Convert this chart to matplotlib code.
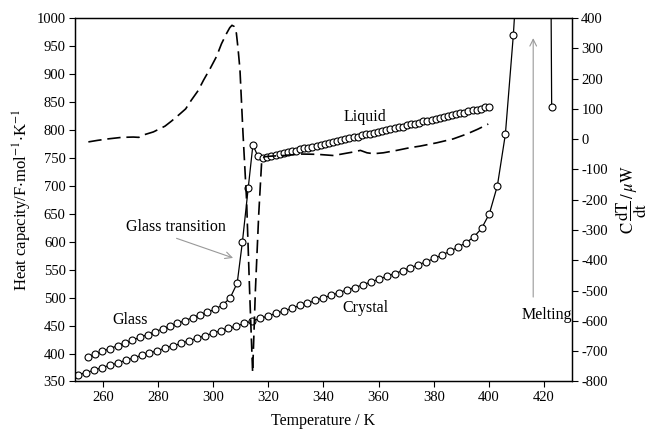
import matplotlib
matplotlib.use("Agg")
import matplotlib.pyplot as plt

plt.rcParams['font.family'] = ['Liberation Serif', 'DejaVu Serif']
plt.rcParams['mathtext.fontset'] = 'stix'
plt.rcParams['axes.unicode_minus'] = False

# ---- data ----
crystal_T = [251.0, 253.9, 256.7, 259.6, 262.5, 265.3, 268.2, 271.1, 274.0, 276.8,
             279.7, 282.6, 285.4, 288.3, 291.2, 294.0, 296.9, 299.8, 302.7, 305.5,
             308.4, 311.3, 314.1, 317.0, 319.9, 322.7, 325.6, 328.5, 331.4, 334.2,
             337.1, 340.0, 342.8, 345.7, 348.6, 351.4, 354.3, 357.2, 360.1, 362.9,
             365.8, 368.7, 371.5, 374.4, 377.3, 380.1, 383.0, 385.9, 388.8, 391.6,
             394.5, 397.4, 400.2, 403.1, 406.0, 408.9, 409.4]
crystal_cp = [362, 366, 370, 375, 379, 383, 388, 392, 397, 401,
              405, 410, 414, 418, 423, 427, 432, 436, 441, 445,
              449, 454, 458, 463, 467, 472, 476, 481, 486, 490,
              495, 500, 504, 509, 514, 518, 523, 528, 533, 538,
              543, 548, 553, 559, 564, 570, 576, 583, 590, 598,
              608, 624, 650, 700, 792, 970, 1010]

melt_T = [422.6, 422.8]
melt_cp = [1010, 841]

glass_T = [254.4, 257.1, 259.8, 262.6, 265.3, 268.0, 270.7, 273.4, 276.2, 278.9,
           281.6, 284.3, 287.0, 289.8, 292.5, 295.2, 297.9, 300.6, 303.4, 306.1,
           308.7, 310.6, 312.7, 314.4, 316.2, 318.0]
glass_cp = [394, 399, 404, 409, 414, 419, 424, 429, 434, 439,
            444, 449, 454, 459, 464, 469, 474, 479, 487, 499,
            526, 600, 696, 773, 753, 750]

liquid_T = [319.6, 321.1, 322.6, 324.1, 325.6, 327.1, 328.5, 330.0, 331.5, 333.0,
            334.5, 336.0, 337.5, 339.0, 340.5, 341.9, 343.4, 344.9, 346.4, 347.9,
            349.4, 350.9, 352.4, 353.9, 355.4, 356.9, 358.3, 359.8, 361.3, 362.8,
            364.3, 365.8, 367.3, 368.8, 370.3, 371.8, 373.2, 374.7, 376.2, 377.7,
            379.2, 380.7, 382.2, 383.7, 385.2, 386.7, 388.1, 389.6, 391.1, 392.6,
            394.1, 395.6, 397.1, 398.6, 400.1]
liquid_cp = [752, 754, 755, 757, 759, 760, 762, 763, 765, 767,
             768, 770, 772, 773, 775, 777, 778, 780, 782, 783,
             785, 787, 788, 790, 792, 793, 795, 796, 798, 800,
             801, 803, 805, 806, 808, 810, 811, 813, 815, 816,
             818, 820, 821, 823, 825, 826, 828, 830, 831, 833,
             835, 836, 838, 840, 841]

heat_T = [254.7, 258.0, 261.9, 266.8, 271.0, 273.0, 274.0, 278.3, 282.5, 284.9,
          287.5, 290.0, 292.0, 294.5, 296.5, 299.0, 301.2, 303.0, 304.9, 306.0,
          306.8, 307.6, 308.4, 309.0, 309.7, 310.8, 312.1, 313.2, 314.3, 315.3,
          316.5, 317.6, 318.5, 321.0, 325.5, 331.6, 337.7, 343.7, 347.3, 351.0,
          353.4, 355.8, 358.2, 361.7, 366.6, 371.4, 375.0, 381.1, 387.1, 392.0,
          396.0, 399.8]
heat_flow = [-9, -4, 1, 6, 7, 6, 12, 24, 43, 60,
             80, 100, 128, 160, 195, 235, 273, 315, 350, 368,
             376, 372, 350, 300, 230, 20, -200, -500, -770, -500,
             -250, -70, -58, -56, -54, -49, -50, -54, -48, -42,
             -37, -45, -48, -45, -37, -28, -23, -12, 1, 17,
             33, 50]

x_ticks = [260, 280, 300, 320, 340, 360, 380, 400, 420]
left_ticks = [350, 400, 450, 500, 550, 600, 650, 700, 750, 800, 850, 900, 950, 1000]
right_ticks = [-800, -700, -600, -500, -400, -300, -200, -100, 0, 100, 200, 300, 400]

# ---- figure ----
fig = plt.figure(figsize=(6.49, 4.32), dpi=100)
ax = fig.add_axes([0.1162, 0.1169, 0.7644, 0.8414])
ax2 = ax.twinx()

mk = dict(marker='o', markersize=5, markerfacecolor='white', markeredgecolor='black',
          markeredgewidth=0.8, color='black', linewidth=0.9)

ax.plot(crystal_T, crystal_cp, markevery=list(range(len(crystal_T) - 1)), **mk)
ax.plot(glass_T + liquid_T, glass_cp + liquid_cp, **mk)
ax.plot(melt_T, melt_cp, markevery=[1], **mk)

ax2.plot(heat_T, heat_flow, color='black', linewidth=1.2, linestyle=(0, (8, 3.5)))

ax.set_xlim(250, 430)
ax.set_ylim(350, 1000)
ax2.set_ylim(-800, 400)
ax.set_xticks(x_ticks)
ax.set_yticks(left_ticks)
ax2.set_yticks(right_ticks)

for a in (ax, ax2):
    a.tick_params(direction='out', length=4, width=0.8, labelsize=10.5, pad=3)
    for s in a.spines.values():
        s.set_linewidth(0.9)

ax.set_xlabel('Temperature / K', fontsize=11.5, labelpad=6)
ax.set_ylabel(r'Heat capacity/F$\cdot$mol$^{-1}$$\cdot$K$^{-1}$', fontsize=12, labelpad=2)
ax2.set_ylabel(r'$\mathrm{C}\,\dfrac{\mathrm{dT}}{\mathrm{dt}}\,/\,\mu\mathrm{W}$', fontsize=12,
               labelpad=4, rotation=90)

ax.text(355.0, 823, 'Liquid', fontsize=11.5, ha='center', va='center')
ax.text(355.4, 481, 'Crystal', fontsize=11.5, ha='center', va='center')
ax.text(269.8, 460, 'Glass', fontsize=11.5, ha='center', va='center')
ax.text(421.1, 469, 'Melting', fontsize=11.5, ha='center', va='center')
ax.text(286.6, 627, 'Glass transition', fontsize=11.5, ha='center', va='center')

ax.annotate('', xy=(307.2, 571), xytext=(286.7, 606),
            arrowprops=dict(arrowstyle='->', color='#999999', lw=0.8,
                            shrinkA=0, shrinkB=0, mutation_scale=12))
ax.annotate('', xy=(416.1, 964), xytext=(416.1, 501),
            arrowprops=dict(arrowstyle='->', color='#999999', lw=0.8,
                            shrinkA=0, shrinkB=0, mutation_scale=12))

fig.savefig('out.png', dpi=100)
